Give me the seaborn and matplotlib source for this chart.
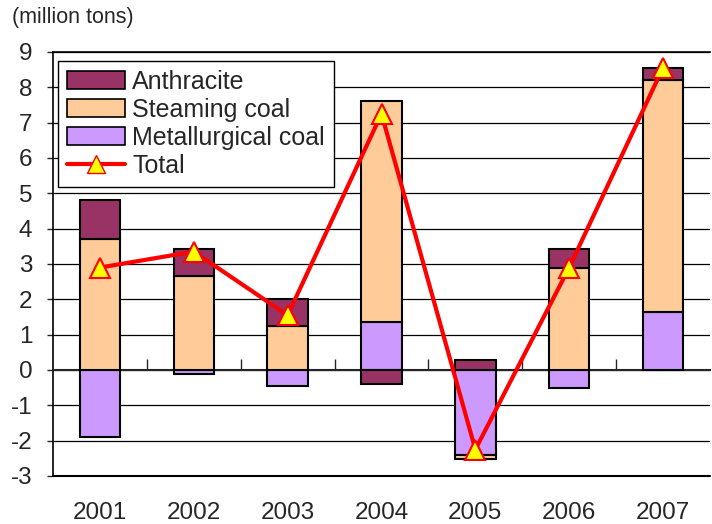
import matplotlib
matplotlib.use("Agg")
import matplotlib.pyplot as plt
import matplotlib.transforms as mtransforms
from matplotlib.lines import Line2D
from matplotlib.patches import Patch
import seaborn as sns
import numpy as np
import pandas as pd

# data (million tons)
years = ["2001", "2002", "2003", "2004", "2005", "2006", "2007"]
metallurgical = [-1.89, -0.10, -0.45, 1.36, -2.41, -0.52, 1.65]
steaming = [3.72, 2.66, 1.25, 6.25, -0.11, 2.88, 6.56]
anthracite = [1.08, 0.76, 0.76, -0.40, 0.28, 0.54, 0.35]
total = [2.90, 3.35, 1.55, 7.25, -2.25, 2.90, 8.56]

sns.set_style("white")
plt.rcParams['font.family'] = ['Liberation Sans', 'DejaVu Sans']

colors = {"Anthracite": "#993366", "Steaming coal": "#FFCC99",
          "Metallurgical coal": "#CC99FF"}

fig = plt.figure(figsize=(7.12, 5.24), dpi=100)
ax = fig.add_axes([53/712, 1-476/524, (710-53)/712, (476-52)/524])

x = np.arange(len(years))
pos_bottom = np.zeros(len(years))
neg_bottom = np.zeros(len(years))
# Excel-style stacking: positives and negatives stacked separately
for name, vals in [("Metallurgical coal", metallurgical),
                   ("Steaming coal", steaming),
                   ("Anthracite", anthracite)]:
    vals = np.array(vals)
    bottom = np.where(vals >= 0, pos_bottom, neg_bottom)
    ax.bar(x, vals, bottom=bottom, width=0.43, color=colors[name],
           edgecolor="black", linewidth=1.5, zorder=3)
    pos_bottom += np.where(vals >= 0, vals, 0)
    neg_bottom += np.where(vals < 0, vals, 0)

df_total = pd.DataFrame({"x": x, "total": total})
sns.lineplot(data=df_total, x="x", y="total", color="#FF0000", linewidth=3,
             marker="^", markersize=15, markerfacecolor="#FFFF00",
             markeredgecolor="#FF0000", markeredgewidth=1.5, zorder=5, ax=ax)

ax.set_xlim(-0.5, len(years) - 0.5)
ax.set_ylim(-3, 9)
ax.set_yticks(range(-3, 10))
ax.set_yticklabels([str(v) for v in range(-3, 10)], fontsize=17.5)
ax.yaxis.grid(True, color="black", linewidth=0.9)
ax.set_axisbelow(True)
ax.tick_params(axis="y", direction="out", length=4, width=1, pad=11, left=True)
ax.axhline(-3, color="black", linewidth=1.5, zorder=2, clip_on=False)
ax.set_xlabel("")
ax.set_ylabel("")

# category axis sits at zero, labels placed at the bottom
ax.spines['bottom'].set_position(('data', 0))
ax.spines['bottom'].set_linewidth(1.5)
ax.spines['right'].set_visible(False)
for s in ['left', 'top']:
    ax.spines[s].set_linewidth(1.2)
    ax.spines[s].set_color("black")
ax.set_xticks(np.arange(0.5, len(years) - 1, 1.0))
ax.set_xticklabels([])
ax.tick_params(axis="x", direction="in", length=8, width=1, bottom=True)
trans = mtransforms.blended_transform_factory(ax.transData, ax.transAxes)
for i, yr in enumerate(years):
    ax.text(i, -0.087, yr, transform=trans, ha="center", va="center", fontsize=17.5)

fig.text(12/712, 1-18/524, "(million tons)", ha="left", va="center", fontsize=15.5)

handles = [Patch(facecolor=colors["Anthracite"], edgecolor="black", linewidth=1.2, label="Anthracite"),
           Patch(facecolor=colors["Steaming coal"], edgecolor="black", linewidth=1.2, label="Steaming coal"),
           Patch(facecolor=colors["Metallurgical coal"], edgecolor="black", linewidth=1.2, label="Metallurgical coal"),
           Line2D([0], [0], color="#FF0000", linewidth=3, marker="^", markersize=13,
                  markerfacecolor="#FFFF00", markeredgecolor="#FF0000", label="Total")]
leg = ax.legend(handles=handles, loc="upper left", bbox_to_anchor=(0.008, 0.979),
                fontsize=18, frameon=True, fancybox=False, edgecolor="black",
                framealpha=1, borderpad=0.36, labelspacing=0.16, handlelength=2.3,
                handleheight=0.7, handletextpad=0.3, borderaxespad=0)
leg.get_frame().set_linewidth(1.0)

fig.savefig("out.png", dpi=100)
